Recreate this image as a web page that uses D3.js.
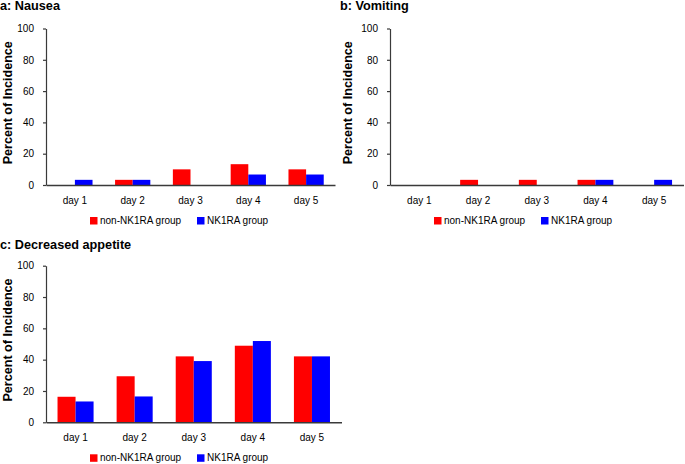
<!DOCTYPE html>
<html>
<head>
<meta charset="utf-8">
<script src="https://cdn.jsdelivr.net/npm/d3@7/dist/d3.min.js"></script>
<style>
  html, body { margin: 0; padding: 0; background: #fff; }
  svg { display: block; font-family: "Liberation Sans", Arial, sans-serif; }
</style>
</head>
<body>
<svg id="chart" width="685" height="464"></svg>
<script>
const days = ["day 1", "day 2", "day 3", "day 4", "day 5"];
const seriesNames = ["non-NK1RA group", "NK1RA group"];
const seriesColors = ["#ff0000", "#0000ff"];
const yTicks = [0, 20, 40, 60, 80, 100];

const nauseaNon = [0, 3.3, 10, 13.3, 10];
const nauseaNK = [3.3, 3.3, 0, 6.7, 6.7];
const vomitingNon = [0, 3.3, 3.3, 3.3, 0];
const vomitingNK = [0, 0, 0, 3.3, 3.3];
const appetiteNon = [16.3, 29.4, 42.1, 48.9, 42.1];
const appetiteNK = [13.3, 16.5, 39.1, 51.9, 42.1];

const panels = [
  { title: "a: Nausea", tx: 0, ty: 10, x0: 46, x1: 335, yTop: 28.5, yBot: 185, ytx: 11.5, data: [nauseaNon, nauseaNK] },
  { title: "b: Vomiting", tx: 340, ty: 10, x0: 390, x1: 683.5, yTop: 28.5, yBot: 185, ytx: 352, data: [vomitingNon, vomitingNK] },
  { title: "c: Decreased appetite", tx: 0, ty: 249, x0: 46, x1: 341.5, yTop: 265.7, yBot: 422.3, ytx: 11.7, data: [appetiteNon, appetiteNK] }
];

const svg = d3.select("#chart");
const axisColor = "#3a3a3a";

panels.forEach(p => {
  const g = svg.append("g");
  g.append("text").attr("x", p.tx).attr("y", p.ty)
    .attr("font-size", "12.7px").attr("font-weight", "bold").attr("fill", "#000")
    .text(p.title);

  const x = d3.scaleBand().domain(days).range([p.x0, p.x1]).paddingInner(0.39).paddingOuter(0.195);
  const xs = d3.scaleBand().domain([0, 1]).range([0, x.bandwidth()]);
  const y = d3.scaleLinear().domain([0, 100]).range([p.yBot, p.yTop]);

  // bars
  p.data.forEach((vals, si) => {
    g.append("g").selectAll("rect").data(vals).join("rect")
      .attr("x", (d, i) => x(days[i]) + xs(si))
      .attr("y", d => y(d))
      .attr("width", xs.bandwidth())
      .attr("height", d => y(0) - y(d))
      .attr("fill", seriesColors[si]);
  });

  // y axis
  const ya = g.append("g").attr("transform", `translate(${p.x0},0)`)
    .call(d3.axisLeft(y).tickValues(yTicks).tickSize(3).tickSizeOuter(0).tickPadding(9));
  ya.selectAll("text").attr("font-size", "10px").attr("fill", "#000").attr("font-family", "Liberation Sans, Arial, sans-serif");
  ya.selectAll("line, path").attr("stroke", axisColor).attr("stroke-width", 1.2);

  // x axis
  const xa = g.append("g").attr("transform", `translate(0,${p.yBot})`)
    .call(d3.axisBottom(x).tickSize(0).tickSizeOuter(0).tickPadding(12));
  xa.selectAll("text").attr("font-size", "10px").attr("fill", "#000").attr("font-family", "Liberation Sans, Arial, sans-serif");
  xa.select("path").attr("stroke", axisColor).attr("stroke-width", 1.5);

  // y title
  g.append("text")
    .attr("transform", `translate(${p.ytx},${(p.yTop + p.yBot) / 2 - 4}) rotate(-90)`)
    .attr("text-anchor", "middle").attr("font-size", "12.6px").attr("font-weight", "bold")
    .attr("fill", "#000").text("Percent of Incidence");

  // legend
  const lx = [p.x0 + 44, p.x0 + 151];
  seriesNames.forEach((name, si) => {
    g.append("rect").attr("x", lx[si]).attr("y", p.yBot + 32).attr("width", 7.5).attr("height", 7.5)
      .attr("fill", seriesColors[si]);
    g.append("text").attr("x", lx[si] + 10).attr("y", p.yBot + 38.5)
      .attr("font-size", "10px").attr("fill", "#000").text(name);
  });
});
</script>
</body>
</html>
